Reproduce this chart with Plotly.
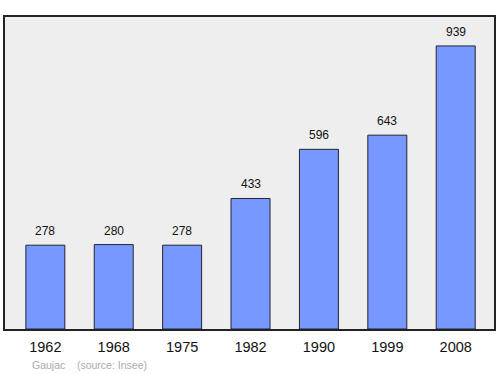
import plotly.graph_objects as go

years = ["1962", "1968", "1975", "1982", "1990", "1999", "2008"]
population = [278, 280, 278, 433, 596, 643, 939]
commune = "Gaujac"
source = "(source: Insee)"

font_family = "Liberation Sans, Arial, sans-serif"

fig = go.Figure()
fig.add_trace(go.Bar(
    x=years, y=population,
    width=0.57,
    marker=dict(color="#7799ff", line=dict(color="#222233", width=1)),
    hoverinfo="x+y",
))

annotations = [
    dict(x=i, y=v, text=str(v), xref="x", yref="y", showarrow=False,
         yanchor="bottom", yshift=5,
         font=dict(family=font_family, size=12, color="#111111"))
    for i, v in enumerate(population)
]
annotations.append(
    dict(text=commune + "&nbsp;&nbsp;&nbsp;&nbsp;" + source, xref="paper", yref="paper",
         x=0.051, y=-0.115, xanchor="left", yanchor="middle", showarrow=False,
         font=dict(family=font_family, size=10.5, color="#aaaaaa"))
)

fig.update_layout(
    width=500, height=374,
    margin=dict(l=5, r=6, t=17, b=45),
    paper_bgcolor="white",
    plot_bgcolor="#eeeeee",
    showlegend=False,
    xaxis=dict(
        type="category", range=[-0.59, 6.56],
        showline=True, mirror=True, linecolor="#222222", linewidth=1.5,
        showgrid=False, ticks="", ticklen=0, ticklabelstandoff=4,
        tickfont=dict(family=font_family, size=14.5, color="#111111"),
        fixedrange=True,
    ),
    yaxis=dict(
        range=[0, 1035],
        showline=True, mirror=True, linecolor="#222222", linewidth=1.5,
        showgrid=False, showticklabels=False, ticks="", zeroline=False,
        fixedrange=True,
    ),
    annotations=annotations,
)

fig.write_html("out.html")
